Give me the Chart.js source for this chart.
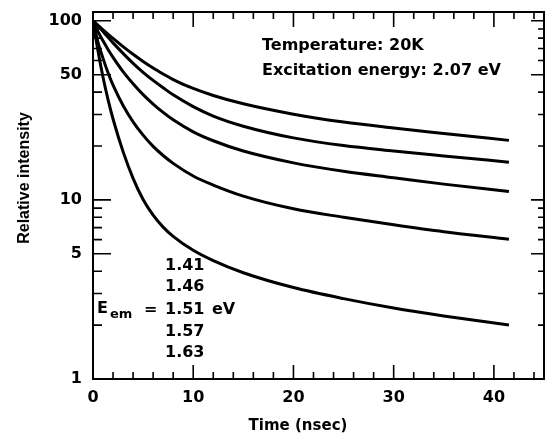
<!DOCTYPE html>
<html><head><meta charset="utf-8">
<script src="https://cdn.jsdelivr.net/npm/chart.js@4/dist/chart.umd.min.js"></script>
<style>html,body{margin:0;padding:0;background:#fff}#wrap{width:545px;height:436px;position:relative}</style>
</head><body><div id="wrap"><canvas id="c"></canvas></div>
<script>
// Time samples (nsec)
const time = [0, 0.5, 1, 1.5, 2, 3, 4, 5, 6, 7, 8, 10, 12, 15, 20, 25, 30, 35, 41.5];
// Relative intensity for each emission energy (eV)
const e141 = [100, 94.4, 89.1, 84.3, 79.8, 71.8, 65.0, 59.3, 54.5, 50.5, 47.0, 41.9, 38.3, 34.4, 30.1, 27.2, 25.2, 23.5, 21.5];
const e146 = [100, 93.8, 87.1, 80.9, 75.3, 65.8, 57.9, 51.6, 46.5, 42.3, 38.6, 33.2, 29.4, 25.8, 22.2, 20.1, 18.75, 17.6, 16.25];
const e151 = [100, 87.1, 77.3, 69.2, 62.5, 52.0, 44.5, 38.7, 34.3, 30.8, 28.0, 24.0, 21.4, 18.75, 16.1, 14.45, 13.3, 12.25, 11.15];
const e157 = [100, 75.9, 61.7, 51.3, 43.7, 33.7, 27.3, 23.0, 19.9, 17.7, 16.0, 13.6, 12.1, 10.5, 8.92, 8.0, 7.26, 6.64, 6.03];
const e163 = [100, 67.8, 48.4, 36.3, 28.3, 18.6, 13.2, 10.06, 8.22, 7.05, 6.26, 5.23, 4.58, 3.92, 3.24, 2.81, 2.49, 2.25, 2.00];
const energies = ['1.41', '1.46', '1.51', '1.57', '1.63'];
const series = [e141, e146, e151, e157, e163];
// Axis ticks
const xTicks = [0,2,4,6,8,10,12,14,16,18,20,22,24,26,28,30,32,34,36,38,40,42,44];
const xLabels = [0, 10, 20, 30, 40];
const yTicks = [1,2,3,4,5,6,7,8,9,10,20,30,40,50,60,70,80,90,100];
const yLabels = [1, 5, 10, 50, 100];

const FONT = 'bold 16px "DejaVu Sans"';

const framePlugin = {
  id: 'frame',
  afterDraw(chart) {
    const ctx = chart.ctx, a = chart.chartArea;
    const xs = chart.scales.x, ys = chart.scales.y;
    ctx.save();
    ctx.strokeStyle = '#000';
    ctx.lineWidth = 2;
    ctx.strokeRect(a.left, a.top, a.right - a.left, a.bottom - a.top);
    ctx.lineWidth = 1.6;
    ctx.beginPath();
    xTicks.forEach(v => {
      const p = xs.getPixelForValue(v);
      const major = v % 10 === 0;
      ctx.moveTo(p, a.bottom); ctx.lineTo(p, a.bottom - (major ? 14 : 7));
      ctx.moveTo(p, a.top); ctx.lineTo(p, a.top + (major ? 15 : 7));
    });
    yTicks.forEach(v => {
      const p = ys.getPixelForValue(v);
      const major = yLabels.includes(v);
      ctx.moveTo(a.left, p); ctx.lineTo(a.left + (major ? 18 : 9), p);
      ctx.moveTo(a.right, p); ctx.lineTo(a.right - (major ? 13 : 6), p);
    });
    ctx.stroke();
    // annotations
    ctx.fillStyle = '#000';
    ctx.font = FONT;
    ctx.textBaseline = 'middle';
    ctx.textAlign = 'left';
    ctx.fillText('Temperature: 20K', 262, 46);
    ctx.fillText('Excitation energy: 2.07 eV', 262, 71);
    const ly = [266, 287, 310, 332, 353];
    energies.forEach((e, i) => ctx.fillText(e, 165, ly[i]));
    ctx.fillText('eV', 212, 310);
    ctx.fillText('=', 144, 310);
    ctx.fillText('E', 97, 309);
    ctx.font = 'bold 13px "DejaVu Sans"';
    ctx.fillText('em', 110, 315);
    // axis titles
    ctx.font = 'bold 15px "DejaVu Sans"';
    ctx.textAlign = 'center';
    ctx.fillText('Time (nsec)', 298, 426);
    ctx.save();
    ctx.translate(25, 178);
    ctx.rotate(-Math.PI / 2);
    ctx.font = 'bold 16px "Liberation Sans"';
    ctx.fillText('Relative intensity', 0, 0);
    ctx.restore();
    ctx.restore();
  }
};

new Chart(document.getElementById('c'), {
  type: 'line',
  data: {
    datasets: series.map((s, i) => ({
      label: energies[i] + ' eV',
      data: time.map((t, j) => ({x: t, y: s[j]})),
      borderColor: '#000',
      borderWidth: 3,
      pointRadius: 0,
      fill: false,
      cubicInterpolationMode: 'monotone'
    }))
  },
  options: {
    responsive: true,
    maintainAspectRatio: false,
    animation: false,
    layout: {padding: {top: 12, right: 1, left: 0, bottom: 0}},
    plugins: {legend: {display: false}, tooltip: {enabled: false}},
    scales: {
      x: {
        type: 'linear', min: 0, max: 45,
        grid: {display: false, drawTicks: false},
        border: {display: false},
        afterBuildTicks: s => { s.ticks = xTicks.map(v => ({value: v})); },
        afterFit: s => { s.height = 57; s.paddingLeft = 0; s.paddingRight = 0; },
        ticks: {
          autoSkip: false, maxRotation: 0, padding: 9,
          color: '#000', font: {family: 'DejaVu Sans', size: 16, weight: 'bold'},
          callback: v => xLabels.includes(v) ? String(v) : ''
        }
      },
      y: {
        type: 'logarithmic', min: 1, max: 112,
        grid: {display: false, drawTicks: false},
        border: {display: false},
        afterBuildTicks: s => { s.ticks = yTicks.map(v => ({value: v})); },
        afterFit: s => { s.width = 93; s.paddingTop = 0; s.paddingBottom = 0; },
        ticks: {
          autoSkip: false, padding: 11,
          color: '#000', font: {family: 'DejaVu Sans', size: 16, weight: 'bold'},
          callback: v => yLabels.includes(v) ? String(v) : ''
        }
      }
    }
  },
  plugins: [framePlugin]
});
</script>
</body></html>
